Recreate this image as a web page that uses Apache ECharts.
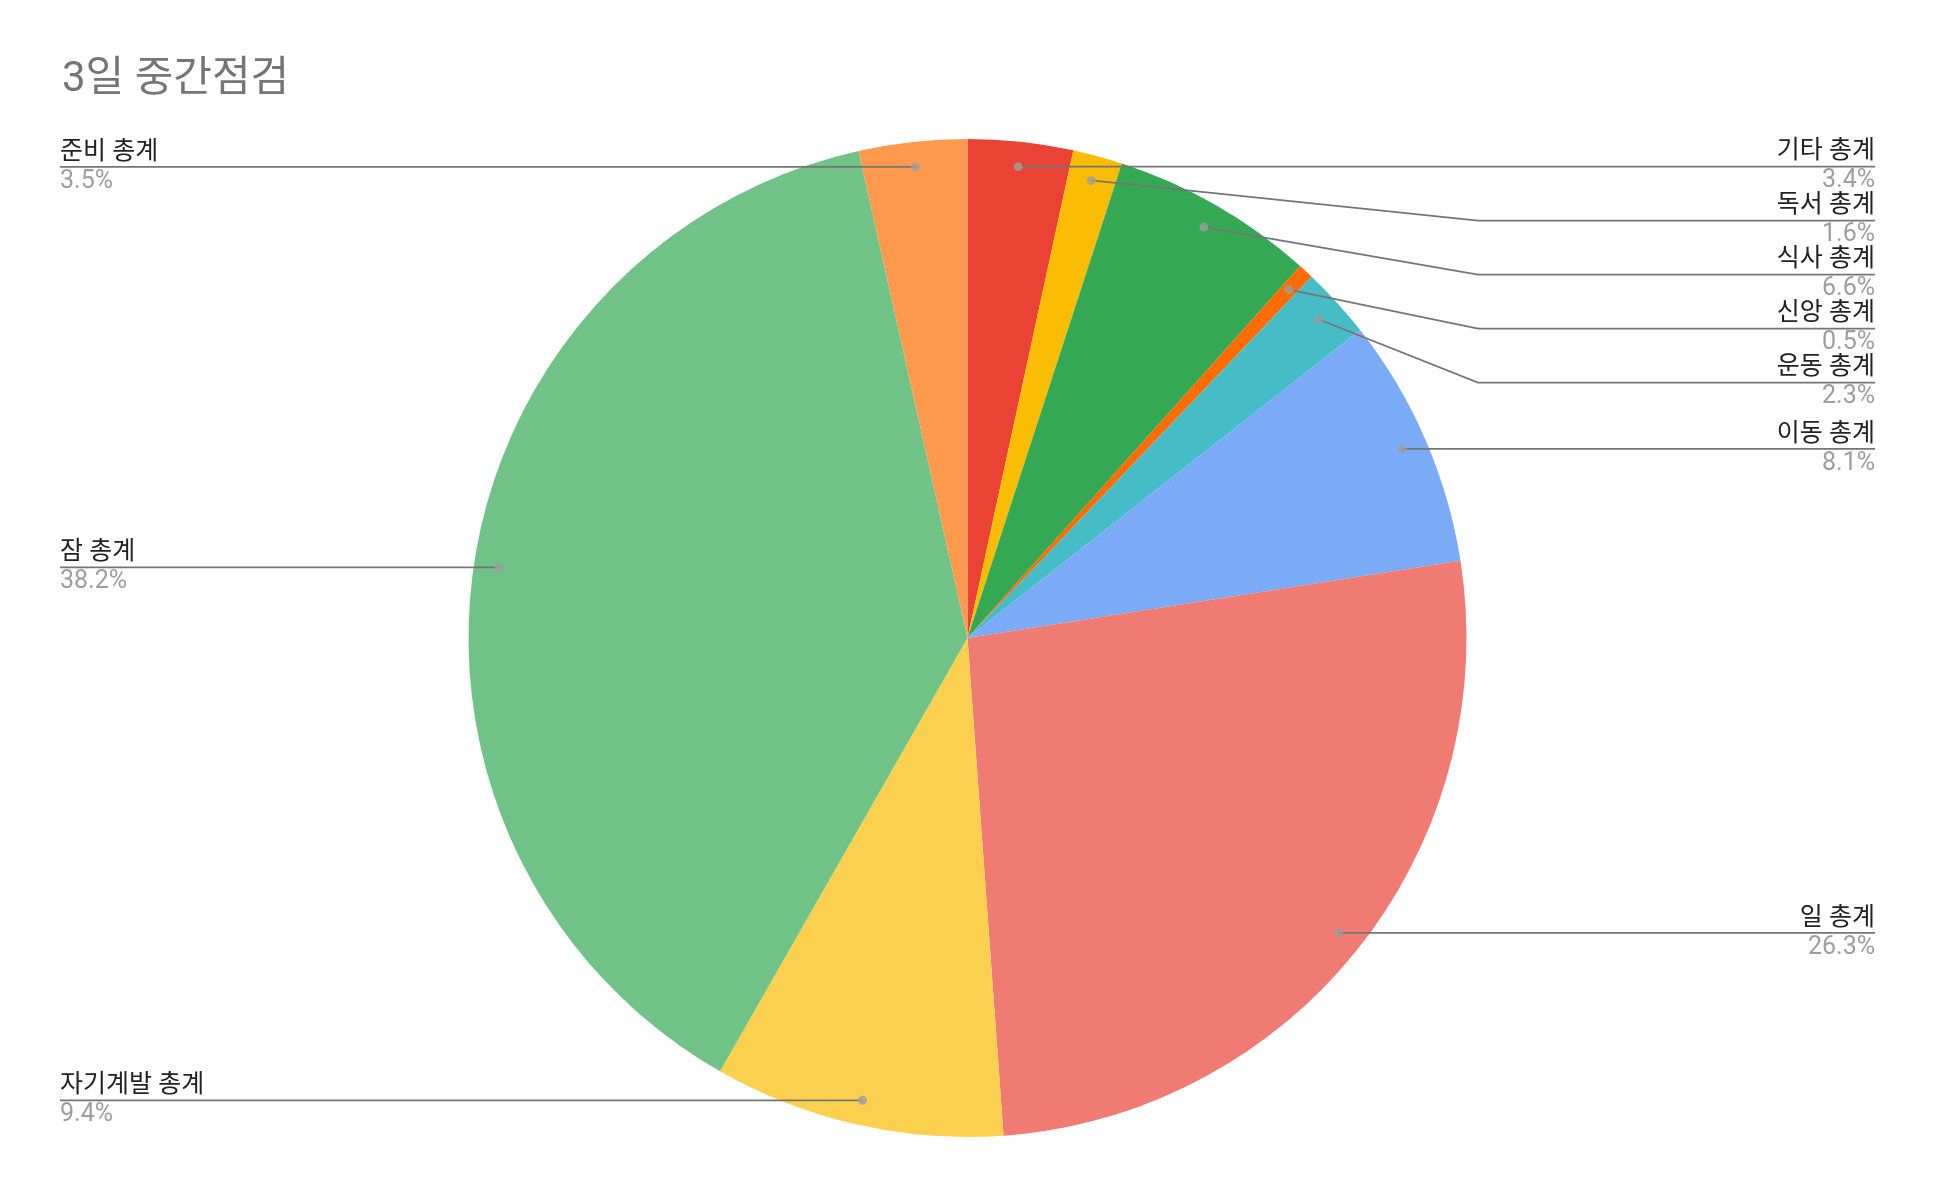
<!DOCTYPE html>
<html>
<head>
<meta charset="utf-8">
<script src="https://cdn.jsdelivr.net/npm/echarts@6/dist/echarts.min.js"></script>
<style>html,body{margin:0;padding:0;background:#fff}#c{width:1935px;height:1198px}</style>
</head>
<body>
<div id="c"></div>
<script>
const titleText = '3일 중간점검';
const names = ['기타 총계','독서 총계','식사 총계','신앙 총계','운동 총계','이동 총계','일 총계','자기계발 총계','잠 총계','준비 총계'];
const values = [3.4, 1.6, 6.6, 0.5, 2.3, 8.1, 26.3, 9.4, 38.2, 3.5];
const colors = ['#EA4335','#FBBC04','#34A853','#FF6D01','#46BDC6','#7BAAF7','#F07B72','#FCD04F','#71C287','#FF994D'];

const FONT = 'Roboto, "Noto Sans CJK KR", sans-serif';
const CX = 967.5, CY = 638, R = 499;
const ANCHOR = 0.95;
const RIGHT_X = 1875, LEFT_X = 60, BEND_R = 1478, BEND_L = 457, GAP = 54;

const total = values.reduce((a, b) => a + b, 0);
let cum = 0;
const mids = values.map(v => { const m = cum + v / 2; cum += v; return m; });
const anchors = mids.map(m => {
  const a = m / total * 2 * Math.PI;
  return [CX + R * ANCHOR * Math.sin(a), CY - R * ANCHOR * Math.cos(a)];
});
const sides = anchors.map(p => p[0] >= CX ? 'right' : 'left');
const lineY = new Array(values.length);
['right', 'left'].forEach(s => {
  const idx = values.map((v, i) => i).filter(i => sides[i] === s).sort((a, b) => anchors[a][1] - anchors[b][1]);
  let prev = -Infinity;
  idx.forEach(i => { const y = Math.max(anchors[i][1], prev + GAP); lineY[i] = y; prev = y; });
});

const pieData = names.map((n, i) => ({ name: n, value: values[i], itemStyle: { color: colors[i] } }));

const chart = echarts.init(document.getElementById('c'), null, { renderer: 'canvas' });
chart.setOption({
  backgroundColor: '#ffffff',
  animation: false,
  title: {
    text: titleText, left: 57, top: 54,
    textStyle: { fontFamily: FONT, fontSize: 42, fontWeight: 'normal', color: '#757575' }
  },
  polar: { center: [CX, CY], radius: R },
  angleAxis: { type: 'value', min: 0, max: total, startAngle: 90, clockwise: true, show: false },
  radiusAxis: { type: 'value', min: 0, max: 1, show: false },
  series: [
    {
      type: 'pie',
      center: [CX, CY],
      radius: [0, R],
      startAngle: 90,
      clockwise: true,
      silent: true,
      z: 1,
      itemStyle: { borderWidth: 0 },
      label: { show: false },
      labelLine: { show: false },
      data: pieData
    },
    {
      type: 'pie',
      center: [CX, CY],
      radius: [0, R],
      startAngle: 90,
      clockwise: true,
      avoidLabelOverlap: false,
      silent: true,
      z: 5,
      itemStyle: { color: 'rgba(0,0,0,0)', borderWidth: 0 },
      data: names.map((n, i) => ({ name: n, value: values[i] })),
      label: {
        show: true,
        position: 'outside',
        formatter: p => '{n|' + p.name + '}\n{p|' + values[p.dataIndex].toFixed(1) + '%}',
        rich: {
          n: { fontFamily: FONT, fontSize: 25, color: '#222222', lineHeight: 29 },
          p: { fontFamily: FONT, fontSize: 25, color: '#9e9e9e', lineHeight: 29 }
        }
      },
      labelLine: { show: true, lineStyle: { color: '#757575', width: 1.8 } },
      labelLayout: params => {
        const i = params.dataIndex;
        const a = anchors[i], y = lineY[i];
        const right = sides[i] === 'right';
        const endX = right ? RIGHT_X : LEFT_X;
        const straight = Math.abs(y - a[1]) < 0.5;
        const mid = straight ? [ (a[0] + endX) / 2, y ] : [ right ? BEND_R : BEND_L, y ];
        return {
          x: endX, y: y,
          align: right ? 'right' : 'left',
          verticalAlign: 'middle',
          labelLinePoints: [[a[0], straight ? y : a[1]], mid, [endX, y]]
        };
      }
    },
    {
      type: 'scatter',
      coordinateSystem: 'polar',
      symbol: 'circle',
      symbolSize: 9,
      z: 10,
      silent: true,
      itemStyle: { color: '#9e9e9e' },
      data: mids.map(m => [ANCHOR, m])
    }
  ]
});
</script>
</body>
</html>
